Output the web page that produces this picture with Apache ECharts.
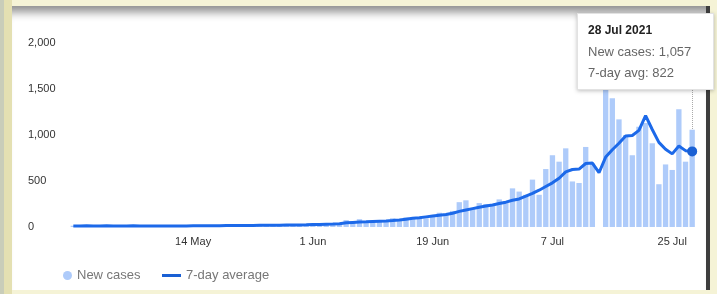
<!DOCTYPE html>
<html>
<head>
<meta charset="utf-8">
<script src="https://cdn.jsdelivr.net/npm/echarts@6/dist/echarts.min.js"></script>
<style>
  html, body { margin: 0; padding: 0; }
  body { width: 717px; height: 294px; position: relative; overflow: hidden; background: #f5f3d6; font-family: "Liberation Sans", Arial, sans-serif; }
  #strip1 { position: absolute; left: 0; top: 0; width: 4px; height: 294px; background: #c9cdb9; }
  #strip2 { position: absolute; left: 4px; top: 0; width: 8px; height: 294px; background: #e4e0b2; }
  #panel { position: absolute; left: 12px; top: 6px; width: 694px; height: 284px; background: #fff;
           border-right: 4px solid #3e3e3e; box-shadow: inset 0 14px 10px -8px rgba(0,0,0,0.45); }
  #chart { position: absolute; left: 0; top: 0; width: 717px; height: 294px; }
</style>
</head>
<body>
<div id="strip1"></div>
<div id="strip2"></div>
<div id="panel"></div>
<div id="chart"></div>
<script>
  // days from 26 Apr to 28 Jul 2021
  const monthSpans = [['Apr', 26, 30], ['May', 1, 31], ['Jun', 1, 30], ['Jul', 1, 28]];
  const categories = [];
  monthSpans.forEach(function (m) {
    for (let d = m[1]; d <= m[2]; d++) categories.push(d + ' ' + m[0]);
  });

  const tickLabels = ['14 May', '1 Jun', '19 Jun', '7 Jul', '25 Jul'];

  const newCases = [
    14, 9, 17, 12, 8, 15, 11, 13, 10, 16, 12, 9, 14, 11, 13, 8, 12, 15,
    13, 17, 10, 14, 18, 12, 16, 20, 15, 19, 22, 17, 21, 25, 19, 24, 28, 22,
    30, 26, 35, 31, 40, 75, 48, 85, 52, 58, 62, 70, 95,
    75, 105, 105, 95, 95, 130, 155, 130, 175, 270, 290, 205, 260, 250, 240, 300, 280,
    420, 385, 350, 515, 350, 630, 780, 710, 855, 495, 478, 870, 690, 0,
    1560, 1400, 1170, 1000, 780, 1090, 1130, 910, 465, 680, 620, 1280, 710, 1057
  ];

  const avg7 = [
    12, 12, 13, 12, 12, 13, 12, 12, 12, 13, 12, 12, 12, 12, 12, 12, 12, 12,
    13, 13, 14, 14, 14, 15, 15, 16, 16, 17, 18, 19, 19, 20, 21, 22, 23, 24,
    26, 28, 30, 32, 35, 45, 50, 55, 57, 60, 63, 66, 70,
    75, 85, 95, 100, 110, 120, 128, 135, 150, 170, 185, 200, 215, 228, 240, 255, 270,
    290, 305, 335, 365, 400, 440, 480, 530, 600, 625, 630, 690, 695, 590,
    760, 840, 910, 990, 995, 1050, 1210, 1060, 920, 845, 795, 880, 830, 822
  ];

  const barColor = '#aecbfa';
  const lineColor = '#1a60d4';

  const chart = echarts.init(document.getElementById('chart'));
  const option = {
    animation: false,
    backgroundColor: 'transparent',
    textStyle: { fontFamily: '"Liberation Sans", Arial, sans-serif' },
    grid: { left: 70, right: 21.5, top: 43, bottom: 67 },
    legend: [
      {
        data: [{ name: 'New cases', icon: 'circle' }],
        left: 58, top: 264, itemWidth: 9, itemHeight: 9, itemGap: 0,
        textStyle: { color: '#777', fontSize: 13 },
        selectedMode: false
      },
      {
        data: [{ name: '7-day average', icon: 'rect' }],
        left: 157, top: 264, itemWidth: 19, itemHeight: 3, itemGap: 0,
        textStyle: { color: '#777', fontSize: 13 },
        selectedMode: false
      }
    ],
    tooltip: {
      trigger: 'axis',
      alwaysShowContent: true,
      transitionDuration: 0,
      position: [577, 13],
      backgroundColor: '#fff',
      borderColor: '#e2e2e2',
      borderWidth: 1,
      padding: [6, 22, 6, 10],
      extraCssText: 'box-shadow:0 1px 4px rgba(0,0,0,0.25);border-radius:0;',
      axisPointer: { type: 'line', z: 1, lineStyle: { color: '#aaa', type: 'dotted', width: 1 } },
      formatter: function (params) {
        const i = params[0].dataIndex;
        return '<div style="line-height:21px;font-size:12px;font-family:Liberation Sans,Arial,sans-serif">' +
          '<div style="font-weight:bold;color:#222">' + categories[i] + ' 2021</div>' +
          '<div style="color:#666;font-size:13px">New cases: ' + newCases[i].toLocaleString('en-US') + '</div>' +
          '<div style="color:#666;font-size:13px">7-day avg: ' + avg7[i].toLocaleString('en-US') + '</div></div>';
      }
    },
    xAxis: {
      type: 'category',
      data: categories,
      axisLine: { show: false },
      axisTick: { show: false },
      axisLabel: {
        interval: function (i) { return tickLabels.indexOf(categories[i]) >= 0; },
        color: '#333', fontSize: 11, margin: 9
      }
    },
    yAxis: {
      type: 'value',
      min: 0, max: 2000, interval: 500,
      splitLine: { show: false },
      axisLine: { show: false },
      axisTick: { show: false },
      axisLabel: {
        color: '#333', fontSize: 11, align: 'left', margin: 42,
        formatter: function (v) { return v.toLocaleString('en-US'); }
      }
    },
    series: [
      {
        name: 'New cases',
        type: 'bar',
        data: newCases,
        barWidth: '80%',
        itemStyle: { color: barColor },
        emphasis: { disabled: true }
      },
      {
        name: '7-day average',
        type: 'line',
        data: avg7,
        z: 5,
        showSymbol: false,
        symbol: 'circle',
        symbolSize: 10,
        lineStyle: { color: lineColor, width: 3 },
        itemStyle: { color: lineColor, borderWidth: 0 },
        emphasis: { scale: false, itemStyle: { color: lineColor, borderWidth: 0 } }
      }
    ]
  };
  chart.setOption(option);
  chart.dispatchAction({ type: 'showTip', seriesIndex: 1, dataIndex: categories.length - 1 });
</script>
</body>
</html>
